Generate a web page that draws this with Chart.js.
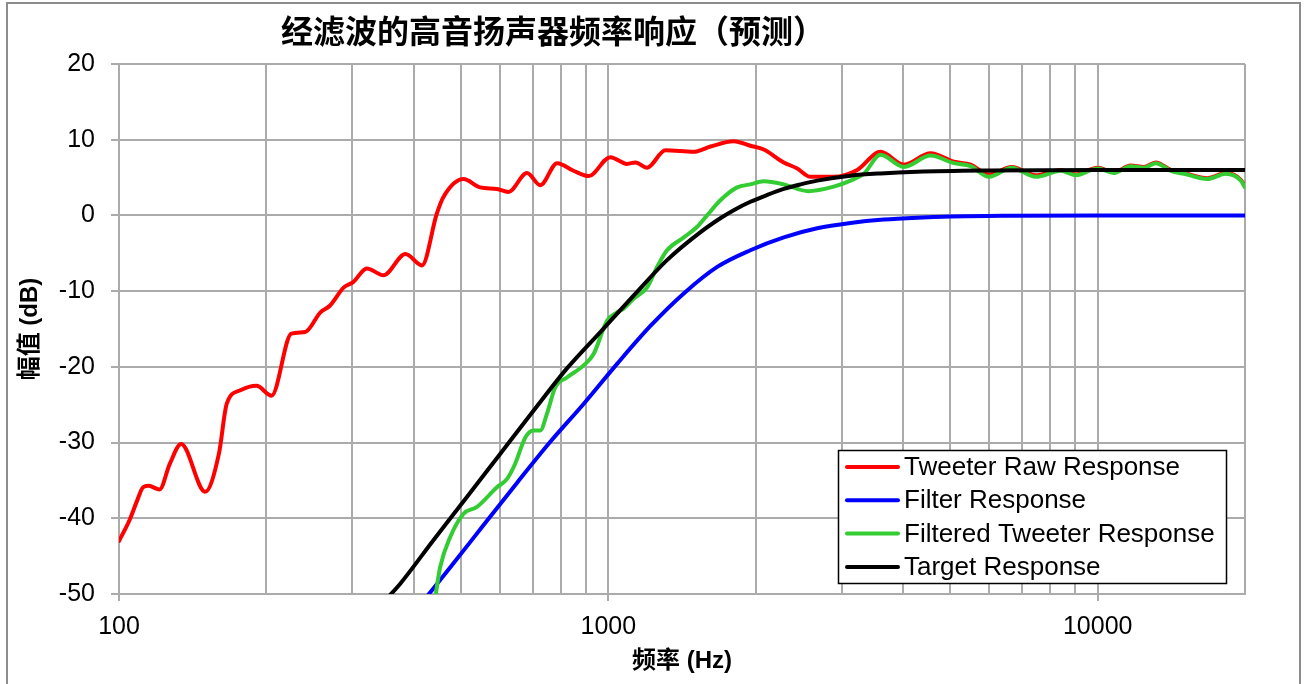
<!DOCTYPE html>
<html>
<head>
<meta charset="utf-8">
<title>经滤波的高音扬声器频率响应（预测）</title>
<script src="https://cdn.jsdelivr.net/npm/chart.js@4.4.1/dist/chart.umd.min.js"></script>
<style>
  html, body { margin: 0; padding: 0; background: #ffffff; }
  #wrap { position: relative; width: 1306px; height: 684px; overflow: hidden; }
  canvas { display: block; }
</style>
</head>
<body>
<div id="wrap"><canvas id="chart" width="1306" height="684"></canvas></div>
<script>
// ---- chart text ----
const chartTitle = '经滤波的高音扬声器频率响应（预测）';
const xAxisTitle = '频率 (Hz)';
const yAxisTitle = '幅值 (dB)';
const seriesNames = ['Tweeter Raw Response', 'Filter Response', 'Filtered Tweeter Response', 'Target Response'];

// ---- axes ----
const xGridFreqs = [100, 200, 300, 400, 500, 600, 700, 800, 900,
                    1000, 2000, 3000, 4000, 5000, 6000, 7000, 8000, 9000,
                    10000, 20000];
const xLabelFreqs = [100, 1000, 10000];
const yTickValues = [-50, -40, -30, -20, -10, 0, 10, 20];

// ---- Tweeter Raw Response (Hz / dB) ----
const rawFreq = [100, 105, 109, 112, 115, 121, 127, 134, 150, 160, 166, 177, 191, 205, 225, 240, 258, 270, 288, 301,
                 321, 347, 385, 416, 446, 460, 506, 547, 592, 625, 682, 726, 786, 849, 912, 1009, 1092, 1136, 1200,
                 1308, 1495, 1617, 1804, 1951, 2078, 2283, 2432, 2589, 2888, 3225, 3600, 4018, 4555, 5083, 5500,
                 5995, 6672, 7470, 8403, 9016, 9986, 10800, 11680, 12435, 13140, 14105, 15015, 16760, 18270, 19610, 20000];
const rawDb   = [-43.0, -40.3, -37.6, -35.9, -35.7, -36.2, -32.8, -30.2, -36.5, -31.5, -24.9, -23.1, -22.5, -23.8, -15.6, -15.4, -12.8, -11.9, -9.5, -8.8,
                 -7.0, -7.9, -5.1, -6.6, 0.2, 2.4, 4.8, 3.7, 3.5, 3.1, 5.6, 4.0, 6.9, 5.9, 5.2, 7.7, 6.8, 7.0, 6.3,
                 8.6, 8.4, 9.1, 9.8, 9.2, 8.7, 7.0, 6.2, 5.1, 5.1, 6.0, 8.4, 6.7, 8.2, 7.1, 6.7,
                 5.4, 6.4, 5.3, 6.0, 5.4, 6.3, 5.7, 6.6, 6.4, 7.0, 6.0, 5.6, 4.9, 5.6, 4.7, 3.8];

// ---- Filter Response ----
const filterFreq = [425, 475, 556, 651, 761, 890, 1042, 1219, 1426, 1669, 1951, 2283, 2672, 3125, 3656, 4278, 5005, 6537, 10000, 20000];
const filterDb   = [-50.4, -46.5, -40.9, -35.3, -29.9, -24.9, -19.6, -14.6, -10.3, -6.8, -4.6, -2.9, -1.7, -1.0, -0.55, -0.3, -0.15, -0.05, 0.0, 0.0];

// ---- Filtered Tweeter Response ----
const filteredFreq = [443, 453, 475, 506, 539, 592, 621, 645, 677, 703, 726, 749, 779, 823, 890, 933, 994, 1042, 1075, 1126,
                      1200, 1258, 1318, 1426, 1519, 1591, 1694, 1833, 1951, 2078, 2283, 2560, 2888, 3125, 3327, 3600,
                      4018, 4555, 5083, 5500, 5995, 6672, 7470, 8403, 9016, 9986, 10800, 11680, 12435, 13140, 14105,
                      15015, 16760, 18270, 19610, 20000];
const filteredDb   = [-50.4, -46.5, -42.5, -39.4, -38.5, -35.9, -34.8, -32.8, -29.3, -28.4, -28.4, -26.2, -22.7, -21.4, -19.8, -18.3, -13.9, -12.8, -12.3, -11.0,
                      -9.5, -6.8, -4.6, -2.9, -1.5, 0.0, 2.0, 3.7, 4.1, 4.5, 4.1, 3.2, 3.8, 4.6, 5.5, 8.0,
                      6.4, 7.9, 6.9, 6.5, 5.1, 6.3, 5.1, 5.9, 5.3, 6.2, 5.6, 6.5, 6.3, 6.9, 5.9,
                      5.5, 4.8, 5.5, 4.6, 3.7];

// ---- Target Response ----
const targetFreq = [355, 376, 439, 514, 601, 703, 823, 963, 1126, 1318, 1543, 1700, 1804, 1951, 2111, 2283, 2470, 2672, 3125, 3600, 4278, 6000, 10000, 20000];
const targetDb   = [-50.4, -48.6, -42.9, -37.2, -31.5, -25.8, -20.2, -15.4, -10.6, -5.9, -2.2, -0.3, 0.7, 1.8, 2.7, 3.5, 4.1, 4.6, 5.25, 5.55, 5.77, 5.93, 6.0, 6.0];

const seriesColors = ['#ff0000', '#0000ff', '#33cc33', '#000000'];

const toPoints = (xs, ys) => xs.map((x, i) => ({ x: x, y: ys[i] }));

const FONT_LATIN = '"Liberation Sans", Arial, "Noto Sans CJK SC", sans-serif';
const FONT_CJK = '"Noto Sans CJK SC", "Liberation Sans", sans-serif';
const GRID_GRAY = '#ababab';

// white page, grey frame around the figure
const framePlugin = {
  id: 'frame',
  beforeDraw(chart) {
    const ctx = chart.ctx;
    ctx.save();
    ctx.fillStyle = '#ffffff';
    ctx.fillRect(0, 0, chart.width, chart.height);
    ctx.strokeStyle = '#8c8c8c';
    ctx.lineWidth = 2;
    ctx.strokeRect(7, 3, 1293, 720);
    ctx.restore();
  }
};

// chart heading
const headingPlugin = {
  id: 'heading',
  afterDraw(chart, args, opts) {
    const ctx = chart.ctx;
    ctx.save();
    ctx.fillStyle = '#000000';
    ctx.font = opts.font;
    ctx.textAlign = 'center';
    ctx.textBaseline = 'middle';
    ctx.fillText(opts.text, opts.x, opts.y);
    ctx.restore();
  }
};

// boxed legend inside the plot area
const boxLegendPlugin = {
  id: 'boxLegend',
  afterDraw(chart, args, opts) {
    const ctx = chart.ctx;
    const b = opts.box;
    ctx.save();
    ctx.fillStyle = '#ffffff';
    ctx.fillRect(b.left, b.top, b.right - b.left, b.bottom - b.top);
    ctx.strokeStyle = '#000000';
    ctx.lineWidth = 1.5;
    ctx.strokeRect(b.left + 0.5, b.top + 0.5, b.right - b.left, b.bottom - b.top);
    ctx.font = opts.font;
    ctx.textAlign = 'left';
    ctx.textBaseline = 'middle';
    chart.data.datasets.forEach((ds, i) => {
      const y = opts.firstRow + i * opts.rowStep;
      ctx.strokeStyle = ds.borderColor;
      ctx.lineWidth = 4;
      ctx.lineCap = 'round';
      ctx.beginPath();
      ctx.moveTo(opts.sampleFrom, y);
      ctx.lineTo(opts.sampleTo, y);
      ctx.stroke();
      ctx.fillStyle = '#000000';
      ctx.fillText(ds.label, opts.textX, y + 1);
    });
    ctx.restore();
  }
};

const lineStyle = (i) => ({
  borderColor: seriesColors[i],
  backgroundColor: seriesColors[i],
  borderWidth: 4,
  pointRadius: 0,
  pointHoverRadius: 0,
  fill: false,
  tension: 0.4,
  cubicInterpolationMode: 'monotone',
  borderCapStyle: 'round',
  borderJoinStyle: 'round',
  clip: 0
});

const datasets = [
  Object.assign({ label: seriesNames[0], data: toPoints(rawFreq, rawDb), order: 2 }, lineStyle(0)),
  Object.assign({ label: seriesNames[1], data: toPoints(filterFreq, filterDb), order: 3 }, lineStyle(1)),
  Object.assign({ label: seriesNames[2], data: toPoints(filteredFreq, filteredDb), order: 1 }, lineStyle(2)),
  Object.assign({ label: seriesNames[3], data: toPoints(targetFreq, targetDb), order: 0 }, lineStyle(3))
];

new Chart(document.getElementById('chart'), {
  type: 'line',
  data: { datasets: datasets },
  options: {
    responsive: false,
    animation: false,
    devicePixelRatio: 1,
    events: [],
    layout: { padding: { left: 12, right: 61, top: 64, bottom: 4 } },
    plugins: {
      legend: { display: false },
      title: { display: false },
      tooltip: { enabled: false },
      heading: { text: chartTitle, font: 'bold 32px ' + FONT_CJK, x: 553, y: 31 },
      boxLegend: {
        box: { left: 838, top: 450, right: 1226, bottom: 583 },
        font: '26px ' + FONT_LATIN,
        firstRow: 467, rowStep: 33.3,
        sampleFrom: 847, sampleTo: 898, textX: 904
      }
    },
    scales: {
      x: {
        type: 'logarithmic',
        min: 100,
        max: 20000,
        afterBuildTicks(scale) {
          scale.ticks = xGridFreqs.map(v => ({ value: v, major: xLabelFreqs.includes(v) }));
        },
        afterFit(scale) { scale.height = 86; },
        border: { display: true, color: GRID_GRAY, width: 2 },
        grid: {
          color: GRID_GRAY,
          lineWidth: 2,
          drawTicks: true,
          tickLength: 7,
          tickWidth: 2,
          tickColor: (ctx) => (ctx.tick && xLabelFreqs.includes(ctx.tick.value)) ? GRID_GRAY : 'rgba(0,0,0,0)'
        },
        ticks: {
          autoSkip: false,
          maxRotation: 0,
          minRotation: 0,
          padding: 11,
          color: '#000000',
          font: { family: FONT_LATIN, size: 25 },
          callback: (value) => xLabelFreqs.includes(value) ? String(value) : ''
        },
        title: {
          display: true,
          text: xAxisTitle,
          color: '#000000',
          font: { family: FONT_LATIN, size: 24, weight: 'bold' },
          padding: { top: 4, bottom: 4 }
        }
      },
      y: {
        type: 'linear',
        min: yTickValues[0],
        max: yTickValues[yTickValues.length - 1],
        afterBuildTicks(scale) {
          scale.ticks = yTickValues.map(v => ({ value: v }));
        },
        afterFit(scale) { scale.width = 107; },
        border: { display: true, color: GRID_GRAY, width: 2 },
        grid: {
          color: GRID_GRAY,
          lineWidth: 2,
          drawTicks: true,
          tickLength: 8,
          tickWidth: 2,
          tickColor: GRID_GRAY
        },
        ticks: {
          padding: 16,
          color: '#000000',
          font: { family: FONT_LATIN, size: 25 }
        },
        title: {
          display: true,
          text: yAxisTitle,
          color: '#000000',
          font: { family: FONT_LATIN, size: 24, weight: 'bold' },
          padding: { top: 4, bottom: 4 }
        }
      }
    }
  },
  plugins: [framePlugin, headingPlugin, boxLegendPlugin]
});
</script>
</body>
</html>
